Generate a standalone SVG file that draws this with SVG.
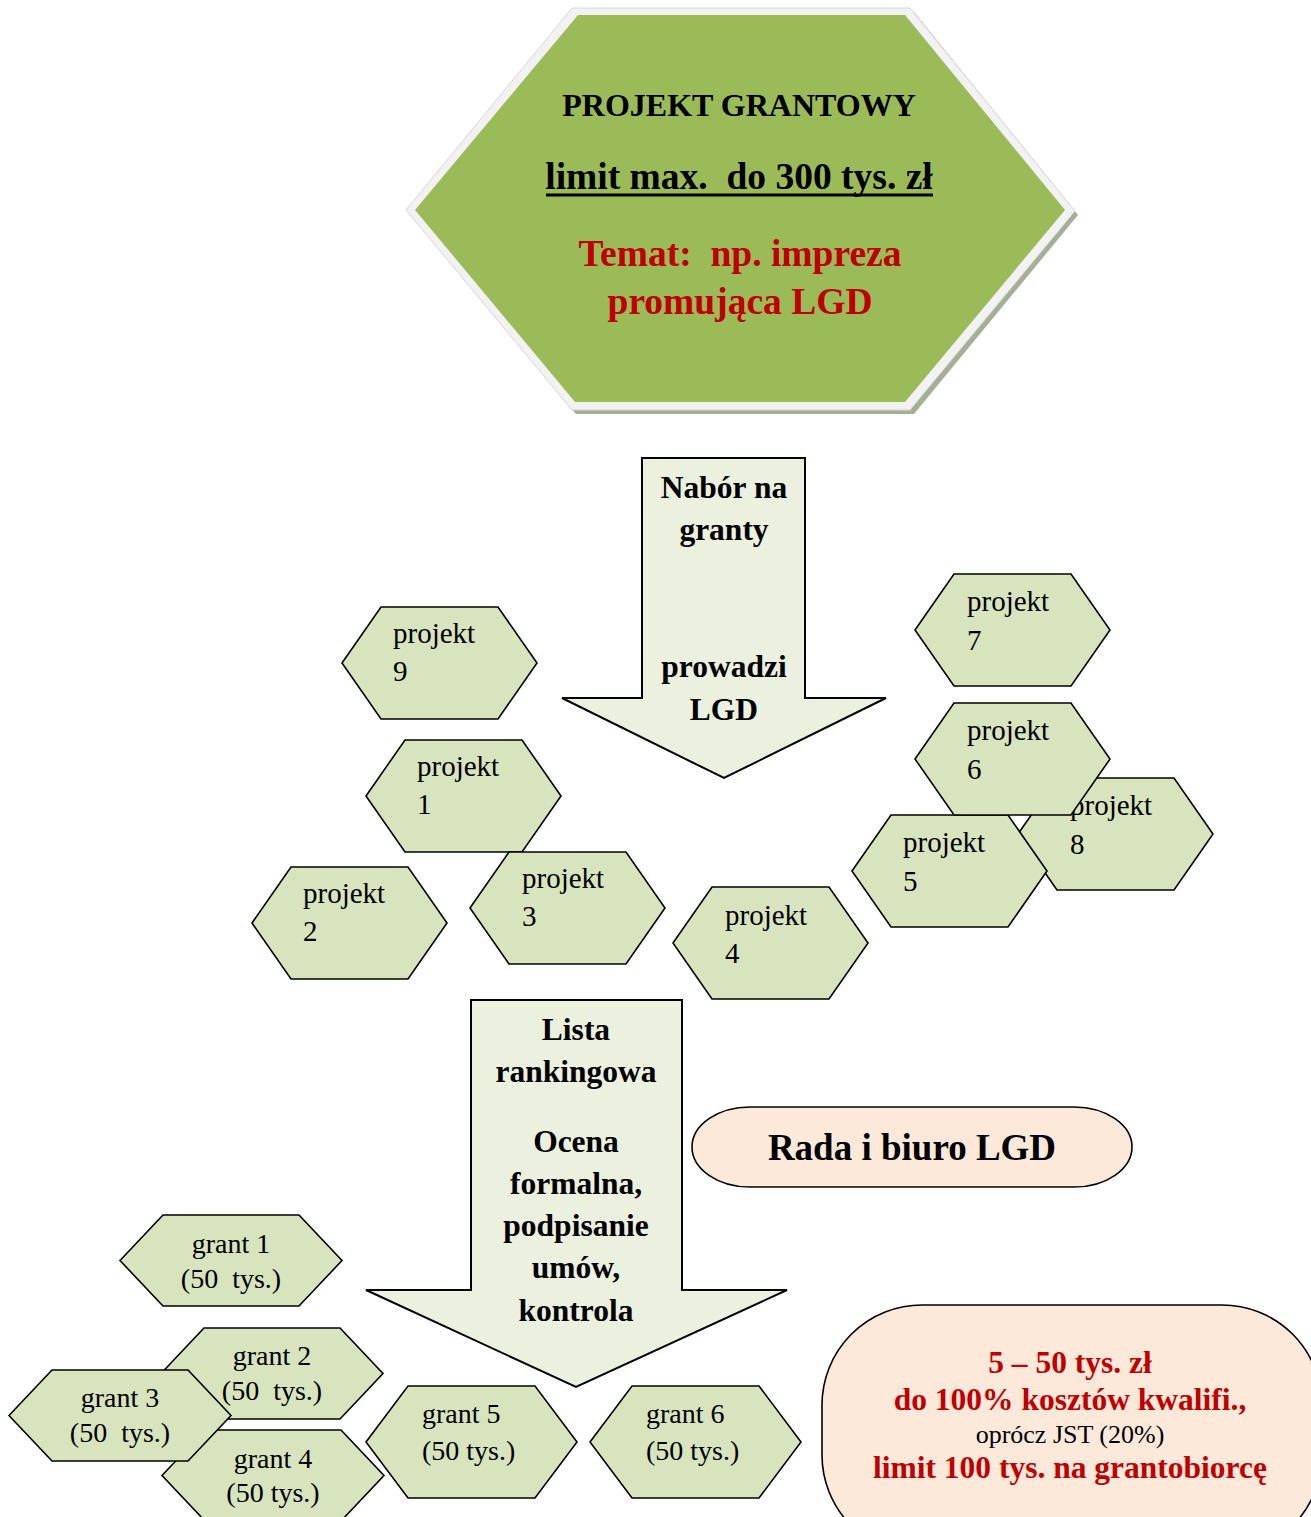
<svg xmlns="http://www.w3.org/2000/svg" width="1311" height="1517" viewBox="0 0 1311 1517">
<style>
.hexp{fill:#D7E4BD;stroke:#000;stroke-width:1.6;stroke-linejoin:miter}
.arr{fill:#EBF1DE;stroke:#000;stroke-width:2}
.t{font-family:"Liberation Serif","Times New Roman",serif;fill:#000}
.reg{font-size:29px}
.gr{font-size:28px}
.b{font-weight:bold}
.red{fill:#C00000}
.mid{text-anchor:middle}
.peach{fill:#FDE9D9;stroke:#000;stroke-width:1.6}
</style>
<defs>
<polygon id="hexP" points="0,56 39,0 156,0 195,56 156,112 39,112"/>
<polygon id="hexG" points="0,45.5 43,0 179,0 222,45.5 179,91 43,91"/>
<polygon id="hexG2" points="0,56 42,0 169,0 211,56 169,112 42,112"/>
</defs>
<rect width="1311" height="1517" fill="#fff"/>

<g id="main-hexagon">
<polygon points="576,12 914,12 1078,215 914,414 576,414 410,214" fill="#A6AE96"/>
<polygon points="572,8 910,8 1075,211 910,410 572,410 406,210" fill="#F2F2F2" stroke="#D6D6D6" stroke-width="1"/>
<polygon points="578,15 905,15 1065,210 905,402 575,402 415,210" fill="#9BBB59"/>
<text class="t b mid" x="739" y="116" font-size="32">PROJEKT GRANTOWY</text>
<text class="t b mid" x="739" y="189" font-size="37.5" xml:space="preserve">limit max.  do 300 tys. zł</text>
<line x1="546" y1="195" x2="933" y2="195" stroke="#000" stroke-width="3"/>
<text class="t b mid red" x="740" y="266" font-size="37.5" xml:space="preserve">Temat:  np. impreza</text>
<text class="t b mid red" x="740" y="314" font-size="37.5">promująca LGD</text>
</g>

<g id="connectors">
<g id="arrow-nabor">
<polygon class="arr" points="642,458 805,458 805,698 886,698 724,778 562,698 642,698"/>
<text class="t b mid" x="724" y="498" font-size="31.5">Nabór na</text>
<text class="t b mid" x="724" y="540" font-size="31.5">granty</text>
<text class="t b mid" x="724" y="677" font-size="31.5">prowadzi</text>
<text class="t b mid" x="724" y="720" font-size="31.5">LGD</text>
</g>
<g id="arrow-lista">
<polygon class="arr" points="471,1000 682,1000 682,1290 787,1290 576,1387 366,1290 471,1290"/>
<text class="t b mid" x="576" y="1040" font-size="31.5">Lista</text>
<text class="t b mid" x="576" y="1082" font-size="31.5">rankingowa</text>
<text class="t b mid" x="576" y="1152" font-size="31.5">Ocena</text>
<text class="t b mid" x="576" y="1194" font-size="31.5">formalna,</text>
<text class="t b mid" x="576" y="1236" font-size="31.5">podpisanie</text>
<text class="t b mid" x="576" y="1278" font-size="31.5">umów,</text>
<text class="t b mid" x="576" y="1321" font-size="31.5">kontrola</text>
</g>
</g>

<g id="projekt-9" transform="translate(342,607)"><use href="#hexP" class="hexp"/><text class="t reg" x="51" y="36">projekt</text><text class="t reg" x="51" y="74">9</text></g>
<g id="projekt-1" transform="translate(366,740)"><use href="#hexP" class="hexp"/><text class="t reg" x="51" y="36">projekt</text><text class="t reg" x="51" y="74">1</text></g>
<g id="projekt-2" transform="translate(252,867)"><use href="#hexP" class="hexp"/><text class="t reg" x="51" y="36">projekt</text><text class="t reg" x="51" y="74">2</text></g>
<g id="projekt-3" transform="translate(470,852)"><use href="#hexP" class="hexp"/><text class="t reg" x="52" y="36">projekt</text><text class="t reg" x="52" y="74">3</text></g>
<g id="projekt-4" transform="translate(673,887)"><use href="#hexP" class="hexp"/><text class="t reg" x="52" y="38">projekt</text><text class="t reg" x="52" y="76">4</text></g>
<g id="projekt-7" transform="translate(915,574)"><use href="#hexP" class="hexp"/><text class="t reg" x="52" y="37">projekt</text><text class="t reg" x="52" y="76">7</text></g>
<g id="projekt-8" transform="translate(1018,778)"><use href="#hexP" class="hexp"/><text class="t reg" x="52" y="37">projekt</text><text class="t reg" x="52" y="76">8</text></g>
<g id="projekt-5" transform="translate(852,815)"><use href="#hexP" class="hexp"/><text class="t reg" x="51" y="37">projekt</text><text class="t reg" x="51" y="76">5</text></g>
<g id="projekt-6" transform="translate(915,703)"><use href="#hexP" class="hexp"/><text class="t reg" x="52" y="37">projekt</text><text class="t reg" x="52" y="76">6</text></g>

<g id="rada">
<rect class="peach" x="692" y="1107" width="440" height="80" rx="58" ry="40"/>
<text class="t b mid" x="912" y="1160" font-size="37">Rada i biuro LGD</text>
</g>

<g id="grant-1" transform="translate(120,1215)"><use href="#hexG" class="hexp"/><text class="t gr mid" x="111" y="38">grant 1</text><text class="t gr mid" x="111" y="73" xml:space="preserve">(50  tys.)</text></g>
<g id="grant-2" transform="translate(161,1328)"><use href="#hexG" class="hexp"/><text class="t gr mid" x="111" y="37">grant 2</text><text class="t gr mid" x="111" y="72" xml:space="preserve">(50  tys.)</text></g>
<g id="grant-4" transform="translate(162,1430)"><use href="#hexG" class="hexp"/><text class="t gr mid" x="111" y="38">grant 4</text><text class="t gr mid" x="111" y="72">(50 tys.)</text></g>
<g id="grant-3" transform="translate(9,1370)"><use href="#hexG" class="hexp"/><text class="t gr mid" x="111" y="37">grant 3</text><text class="t gr mid" x="111" y="72" xml:space="preserve">(50  tys.)</text></g>
<g id="grant-5" transform="translate(366,1386)"><use href="#hexG2" class="hexp"/><text class="t gr" x="56" y="37">grant 5</text><text class="t gr" x="56" y="74">(50 tys.)</text></g>
<g id="grant-6" transform="translate(590,1386)"><use href="#hexG2" class="hexp"/><text class="t gr" x="56" y="37">grant 6</text><text class="t gr" x="56" y="74">(50 tys.)</text></g>

<g id="limits">
<rect class="peach" x="822" y="1305" width="500" height="250" rx="100" ry="100"/>
<text class="t b mid red" x="1070" y="1373" font-size="31.5">5 – 50 tys. zł</text>
<text class="t b mid red" x="1070" y="1410" font-size="31.5">do 100% kosztów kwalifi.,</text>
<text class="t mid" x="1070" y="1443" font-size="26">oprócz JST (20%)</text>
<text class="t b mid red" x="1070" y="1478" font-size="31.5">limit 100 tys. na grantobiorcę</text>
</g>
</svg>
